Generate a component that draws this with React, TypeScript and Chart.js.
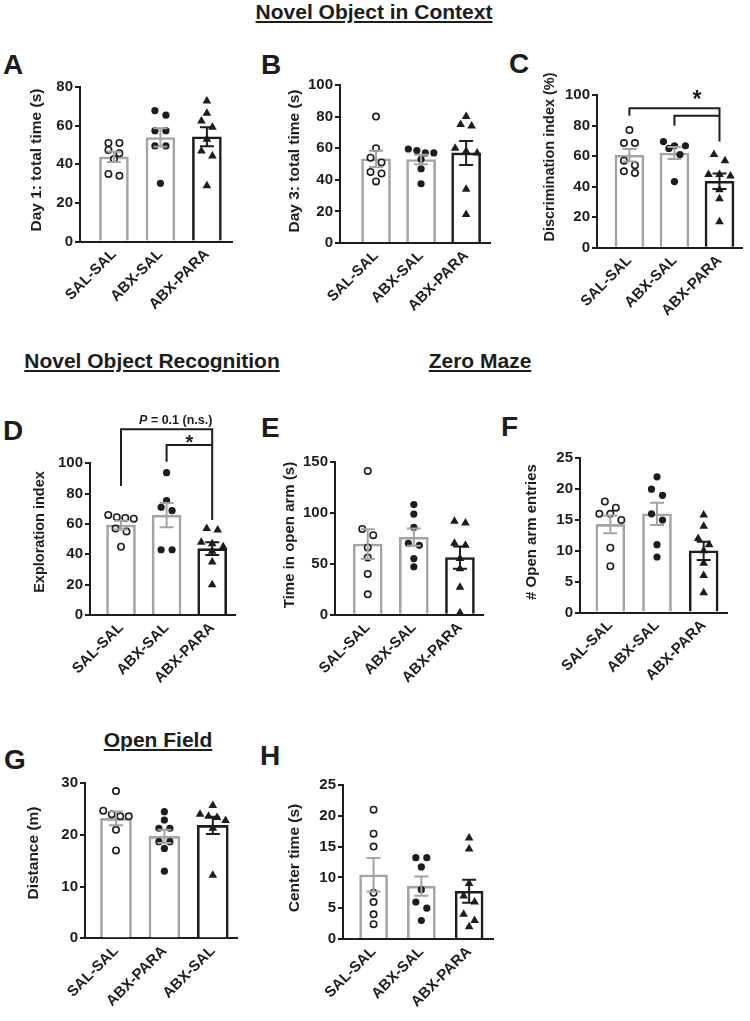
import React, { useEffect, useRef } from "react";
import { Chart, registerables } from "chart.js";

Chart.register(...registerables);

const FONT = "'Liberation Sans', Arial, Helvetica, sans-serif";
const INK = "#1d1d1b";
const GRAY = "#a4a4a4";

Chart.defaults.font.family = FONT;

// ---- categories ----
const contextGroups = ["SAL-SAL", "ABX-SAL", "ABX-PARA"];
const openFieldGroups = ["SAL-SAL", "ABX-PARA", "ABX-SAL"];

// ---- A: Day 1 total time (s) ----
const day1SalSal = [51, 51, 47.4, 45.7, 42.7, 35, 34];
const day1AbxSal = [67.8, 65.4, 57.4, 57.4, 49.5, 49.5, 30.1];
const day1AbxPara = [72.8, 66.4, 62.4, 59.2, 52.9, 46.9, 44.3, 28.9];

// ---- B: Day 3 total time (s) ----
const day3SalSal = [80, 60, 54, 51, 45, 44, 39];
const day3AbxSal = [59.5, 58.5, 57, 57, 53, 47, 37.5];
const day3AbxPara = [80, 75, 74, 60, 58, 57, 34, 18];

// ---- C: Discrimination index (%) ----
const discSalSal = [77, 68.5, 68.5, 57, 54, 50, 49];
const discAbxSal = [69.5, 66.7, 66.7, 65, 61, 43.3];
const discAbxPara = [61, 57, 48, 48, 47, 38, 32, 17];

// ---- D: Exploration index ----
const explSalSal = [66, 64.5, 64, 63.5, 57, 55, 45];
const explAbxSal = [93.8, 75.4, 71, 68.8, 43, 43];
const explAbxPara = [57, 56, 48, 47, 45, 42, 35, 20];

// ---- E: Time in open arm (s) ----
const openTimeSalSal = [141, 84, 78, 66, 56, 40, 20];
const openTimeAbxSal = [108, 98.7, 85.6, 70, 68, 55, 47];
const openTimeAbxPara = [91.5, 89.8, 70, 68, 55, 45, 27, 2];

// ---- F: # Open arm entries ----
const entriesSalSal = [18, 17, 16, 16, 15, 10.5, 7.5];
const entriesAbxSal = [22, 20, 19, 16, 15, 11, 9];
const entriesAbxPara = [15.8, 14, 12, 11, 10, 8, 6, 3.2];

// ---- G: Distance (m) (order SAL-SAL, ABX-PARA, ABX-SAL) ----
const distSalSal = [28.5, 24.7, 24, 23.6, 23.6, 21, 17];
const distAbxPara = [24.5, 22.9, 21.3, 21.3, 18.7, 18.7, 17.4, 13];
const distAbxSal = [25.7, 24, 23.6, 23.4, 22.8, 21.3, 12.2];

// ---- H: Center time (s) ----
const centerSalSal = [21, 17.1, 15, 7.5, 6, 4, 2.4];
const centerAbxSal = [13.2, 13.2, 11.7, 8, 6, 5, 3];
const centerAbxPara = [16.4, 14.6, 9, 7, 6, 4, 3, 2];

// ---- significance brackets (data units: [group index, value]) ----
const bracketC = [
  [[0, 86.4], [0, 91.4], [2, 91.4], [2, 69.5]],
  [[1, 79.8], [1, 86.4], [2, 86.4]],
];
const starC = { x: 1.5, y: 101, size: 23 };
const bracketD = [
  [[0, 85], [0, 122.4], [2, 122.4], [2, 62.6]],
  [[1, 101], [1, 112], [2, 112]],
];
const starD = { x: 1.5, y: 117, size: 20 };
const pLabelD = { x: 1.2, y: 126, italic: "P", rest: " = 0.1 (n.s.)" };

type Pt = number[];
interface PanelSpec {
  key: string;
  groups: string[];
  series: number[][];
  yMax: number;
  yStep: number;
  yTitle: string;
  left: number;
  right: number;
  top: number;
  bottom: number;
  titleX: number;
  titleY: number;
  titleSize: number;
  xMin: number;
  xMax: number;
  extraTop: number;
  barWidth: number;
  brackets?: Pt[][];
  star?: { x: number; y: number; size: number };
  pLabel?: { x: number; y: number; italic: string; rest: string };
}

const panels: PanelSpec[] = [
  { key: "A", groups: contextGroups, series: [day1SalSal, day1AbxSal, day1AbxPara], yMax: 80, yStep: 20,
    yTitle: "Day 1: total time (s)", left: 80, right: 232, top: 87, bottom: 241.5, titleX: 37, titleY: 160, titleSize: 15.5,
    xMin: -0.73, xMax: 2.54, extraTop: 14, barWidth: 29 },
  { key: "B", groups: contextGroups, series: [day3SalSal, day3AbxSal, day3AbxPara], yMax: 100, yStep: 20,
    yTitle: "Day 3: total time (s)", left: 340, right: 490, top: 85, bottom: 243, titleX: 295, titleY: 161, titleSize: 15.5,
    xMin: -0.8, xMax: 2.53, extraTop: 14, barWidth: 29 },
  { key: "C", groups: contextGroups, series: [discSalSal, discAbxSal, discAbxPara], yMax: 100, yStep: 20,
    yTitle: "Discrimination index (%)", left: 597, right: 742, top: 95, bottom: 247.7, titleX: 550, titleY: 157, titleSize: 14.5,
    xMin: -0.72, xMax: 2.5, extraTop: 20, barWidth: 29, brackets: bracketC, star: starC },
  { key: "D", groups: contextGroups, series: [explSalSal, explAbxSal, explAbxPara], yMax: 100, yStep: 20,
    yTitle: "Exploration index", left: 90, right: 235, top: 463.3, bottom: 615, titleX: 40, titleY: 532, titleSize: 14.5,
    xMin: -0.68, xMax: 2.5, extraTop: 60, barWidth: 29, brackets: bracketD, star: starD, pLabel: pLabelD },
  { key: "E", groups: contextGroups, series: [openTimeSalSal, openTimeAbxSal, openTimeAbxPara], yMax: 150, yStep: 50,
    yTitle: "Time in open arm (s)", left: 335, right: 483, top: 461.7, bottom: 614.7, titleX: 290, titleY: 535, titleSize: 15,
    xMin: -0.71, xMax: 2.5, extraTop: 14, barWidth: 29 },
  { key: "F", groups: contextGroups, series: [entriesSalSal, entriesAbxSal, entriesAbxPara], yMax: 25, yStep: 5,
    yTitle: "# Open arm entries", left: 580, right: 727, top: 458.3, bottom: 612.5, titleX: 532, titleY: 532, titleSize: 15,
    xMin: -0.65, xMax: 2.5, extraTop: 14, barWidth: 29 },
  { key: "G", groups: openFieldGroups, series: [distSalSal, distAbxPara, distAbxSal], yMax: 30, yStep: 10,
    yTitle: "Distance (m)", left: 85, right: 237, top: 783.3, bottom: 938.3, titleX: 34, titleY: 853, titleSize: 15.5,
    xMin: -0.64, xMax: 2.5, extraTop: 14, barWidth: 31 },
  { key: "H", groups: contextGroups, series: [centerSalSal, centerAbxSal, centerAbxPara], yMax: 25, yStep: 5,
    yTitle: "Center time (s)", left: 343, right: 493, top: 785, bottom: 939, titleX: 295, titleY: 858, titleSize: 15.5,
    xMin: -0.64, xMax: 2.5, extraTop: 14, barWidth: 28 },
];

const mean = (v: number[]) => v.reduce((a, b) => a + b, 0) / v.length;
const sem = (v: number[]) => {
  const m = mean(v);
  const sd = Math.sqrt(v.reduce((a, b) => a + (b - m) * (b - m), 0) / (v.length - 1));
  return sd / Math.sqrt(v.length);
};

// GraphPad-like scatter arrangement: points with near-equal values form a row, spread symmetrically
function swarmOffsets(values: number[], pxPerY: number, pxPerX: number): number[] {
  const order = values.map((_, i) => i).sort((a, b) => values[b] - values[a]);
  const offsets = new Array(values.length).fill(0);
  let i = 0;
  while (i < order.length) {
    const row = [order[i]];
    let j = i + 1;
    while (j < order.length && (values[order[i]] - values[order[j]]) * pxPerY < 6.5) {
      row.push(order[j]);
      j++;
    }
    const step = row.length >= 4 ? 8.5 : 11;
    row.forEach((k, r) => {
      offsets[k] = ((r - (row.length - 1) / 2) * step) / pxPerX;
    });
    i = j;
  }
  return offsets;
}

function geometry(p: PanelSpec) {
  const cl = Math.round(p.titleX - 12);
  const ct = Math.round(Math.min(p.top - p.extraTop, p.titleY - 110));
  const h = Math.ceil(p.bottom - ct + 76);
  const w = Math.round(p.right - cl + 8);
  return {
    cl, ct, w, h,
    yw: p.left - cl,
    padTop: p.top - ct,
    padRight: cl + w - p.right,
    xh: ct + h - p.bottom,
  };
}

function PanelChart({ p }: { p: PanelSpec }) {
  const ref = useRef<HTMLCanvasElement>(null);
  const g = geometry(p);

  useEffect(() => {
    const pxPerY = (p.bottom - p.top) / p.yMax;
    const pxPerX = (p.right - p.left) / (p.xMax - p.xMin);
    const tickFont = { family: FONT, size: 15, weight: "bold" as const };

    const scatterSets = p.series.map((vals, i) => {
      const offs = swarmOffsets(vals, pxPerY, pxPerX);
      const open = i === 0;
      const tri = i === 2;
      return {
        type: "scatter" as const,
        data: vals.map((v, k) => ({ x: i + offs[k], y: v })),
        pointStyle: tri ? "triangle" : "circle",
        pointRadius: tri ? 5 : open ? 3.2 : 3.6,
        pointBackgroundColor: open ? "#ffffff" : INK,
        pointBorderColor: INK,
        pointBorderWidth: open ? 1.6 : 0,
        order: 1,
        clip: false as const,
      };
    });

    const barSet = {
      type: "bar" as const,
      data: p.series.map((vals, i) => ({ x: i, y: mean(vals) })),
      backgroundColor: "#ffffff",
      borderColor: p.series.map((_, i) => (i === 2 ? INK : GRAY)),
      borderWidth: 2.6,
      barThickness: p.barWidth,
      order: 2,
    };

    const overlay = {
      id: "overlay" + p.key,
      afterDatasetsDraw(chart: any) {
        const { ctx } = chart;
        const xs = chart.scales.x;
        const ys = chart.scales.y;
        ctx.save();
        ctx.lineWidth = 2;
        ctx.lineCap = "butt";
        ctx.lineJoin = "miter";
        p.series.forEach((vals, i) => {
          const m = mean(vals);
          const s = sem(vals);
          const cx = xs.getPixelForValue(i);
          const y1 = ys.getPixelForValue(m + s);
          const y2 = ys.getPixelForValue(m - s);
          ctx.strokeStyle = i === 2 ? INK : GRAY;
          ctx.beginPath();
          ctx.moveTo(cx, y1);
          ctx.lineTo(cx, y2);
          ctx.moveTo(cx - 7, y1);
          ctx.lineTo(cx + 7, y1);
          ctx.moveTo(cx - 7, y2);
          ctx.lineTo(cx + 7, y2);
          ctx.stroke();
        });
        if (p.brackets) {
          ctx.strokeStyle = INK;
          p.brackets.forEach((path) => {
            ctx.beginPath();
            path.forEach(([gx, gy], k) => {
              const px = xs.getPixelForValue(gx);
              const py = ys.getPixelForValue(gy);
              if (k === 0) ctx.moveTo(px, py);
              else ctx.lineTo(px, py);
            });
            ctx.stroke();
          });
        }
        ctx.fillStyle = INK;
        if (p.star) {
          ctx.font = `bold ${p.star.size}px ${FONT}`;
          ctx.textAlign = "center";
          ctx.textBaseline = "alphabetic";
          ctx.fillText("*", xs.getPixelForValue(p.star.x), ys.getPixelForValue(p.star.y) + 0.57 * p.star.size);
        }
        if (p.pLabel) {
          const it = `italic bold 12.5px ${FONT}`;
          const bd = `bold 12.5px ${FONT}`;
          ctx.font = it;
          const w1 = ctx.measureText(p.pLabel.italic).width;
          ctx.font = bd;
          const w2 = ctx.measureText(p.pLabel.rest).width;
          const cx = xs.getPixelForValue(p.pLabel.x);
          const by = ys.getPixelForValue(p.pLabel.y);
          const x0 = cx - (w1 + w2) / 2;
          ctx.textAlign = "left";
          ctx.textBaseline = "alphabetic";
          ctx.font = it;
          ctx.fillText(p.pLabel.italic, x0, by);
          ctx.font = bd;
          ctx.fillText(p.pLabel.rest, x0 + w1, by);
        }
        // rotated y-axis title
        ctx.translate(p.titleX - g.cl, p.titleY - g.ct);
        ctx.rotate(-Math.PI / 2);
        ctx.font = `bold ${p.titleSize}px ${FONT}`;
        ctx.textAlign = "center";
        ctx.textBaseline = "middle";
        ctx.fillText(p.yTitle, 0, 0);
        ctx.restore();
      },
    };

    const chart = new Chart(ref.current as HTMLCanvasElement, {
      type: "bar",
      data: { datasets: [barSet as any, ...(scatterSets as any[])] },
      options: {
        animation: false,
        responsive: false,
        devicePixelRatio: 1,
        layout: { padding: { left: 0, top: g.padTop, right: g.padRight, bottom: 0 } },
        plugins: { legend: { display: false }, tooltip: { enabled: false } },
        events: [],
        scales: {
          x: {
            type: "linear",
            min: p.xMin,
            max: p.xMax,
            offset: false,
            afterBuildTicks: (s: any) => {
              s.ticks = p.groups.map((_, i) => ({ value: i }));
            },
            afterFit: (s: any) => {
              s.height = g.xh;
            },
            grid: { display: false, drawTicks: false, offset: false },
            border: { display: true, color: INK, width: 2 },
            ticks: {
              autoSkip: false,
              minRotation: 45,
              maxRotation: 45,
              padding: 4,
              color: INK,
              font: tickFont,
              callback: (v: any) => p.groups[Math.round(Number(v))] ?? "",
            },
          },
          y: {
            type: "linear",
            min: 0,
            max: p.yMax,
            afterFit: (s: any) => {
              s.width = g.yw;
            },
            ticks: { stepSize: p.yStep, padding: 2, color: INK, font: tickFont },
            grid: { drawOnChartArea: false, drawTicks: true, tickLength: 5, color: INK, lineWidth: 2 },
            border: { display: true, color: INK, width: 2 },
            title: { display: false },
          },
        },
      } as any,
      plugins: [overlay],
    });
    return () => chart.destroy();
  }, []);

  return (
    <canvas
      ref={ref}
      width={g.w}
      height={g.h}
      style={{ position: "absolute", left: g.cl, top: g.ct, width: g.w, height: g.h }}
    />
  );
}

const sectionTitles = [
  { text: "Novel Object in Context", cx: 374, top: 1 },
  { text: "Novel Object Recognition", cx: 152, top: 350 },
  { text: "Zero Maze", cx: 480, top: 350 },
  { text: "Open Field", cx: 158, top: 729 },
];

const panelLetters = [
  { text: "A", left: 3, top: 51 },
  { text: "B", left: 261, top: 51 },
  { text: "C", left: 509, top: 50 },
  { text: "D", left: 3, top: 417 },
  { text: "E", left: 261, top: 414 },
  { text: "F", left: 501, top: 413 },
  { text: "G", left: 4, top: 746 },
  { text: "H", left: 260, top: 742 },
];

export default function App() {
  return (
    <div
      style={{
        position: "absolute",
        left: 0,
        top: 0,
        width: 750,
        height: 1021,
        background: "#ffffff",
        overflow: "hidden",
        fontFamily: FONT,
        color: INK,
      }}
    >
      {sectionTitles.map((t) => (
        <div
          key={t.text}
          style={{
            position: "absolute",
            left: t.cx,
            top: t.top,
            transform: "translateX(-50%)",
            fontSize: 21,
            lineHeight: "21px",
            fontWeight: "bold",
            whiteSpace: "nowrap",
            textDecoration: "underline",
            textDecorationThickness: "2px",
            textUnderlineOffset: "2px",
          }}
        >
          {t.text}
        </div>
      ))}
      {panelLetters.map((l) => (
        <div
          key={l.text}
          style={{
            position: "absolute",
            left: l.left,
            top: l.top,
            fontSize: 28,
            lineHeight: "28px",
            fontWeight: "bold",
          }}
        >
          {l.text}
        </div>
      ))}
      {panels.map((p) => (
        <PanelChart key={p.key} p={p} />
      ))}
    </div>
  );
}
